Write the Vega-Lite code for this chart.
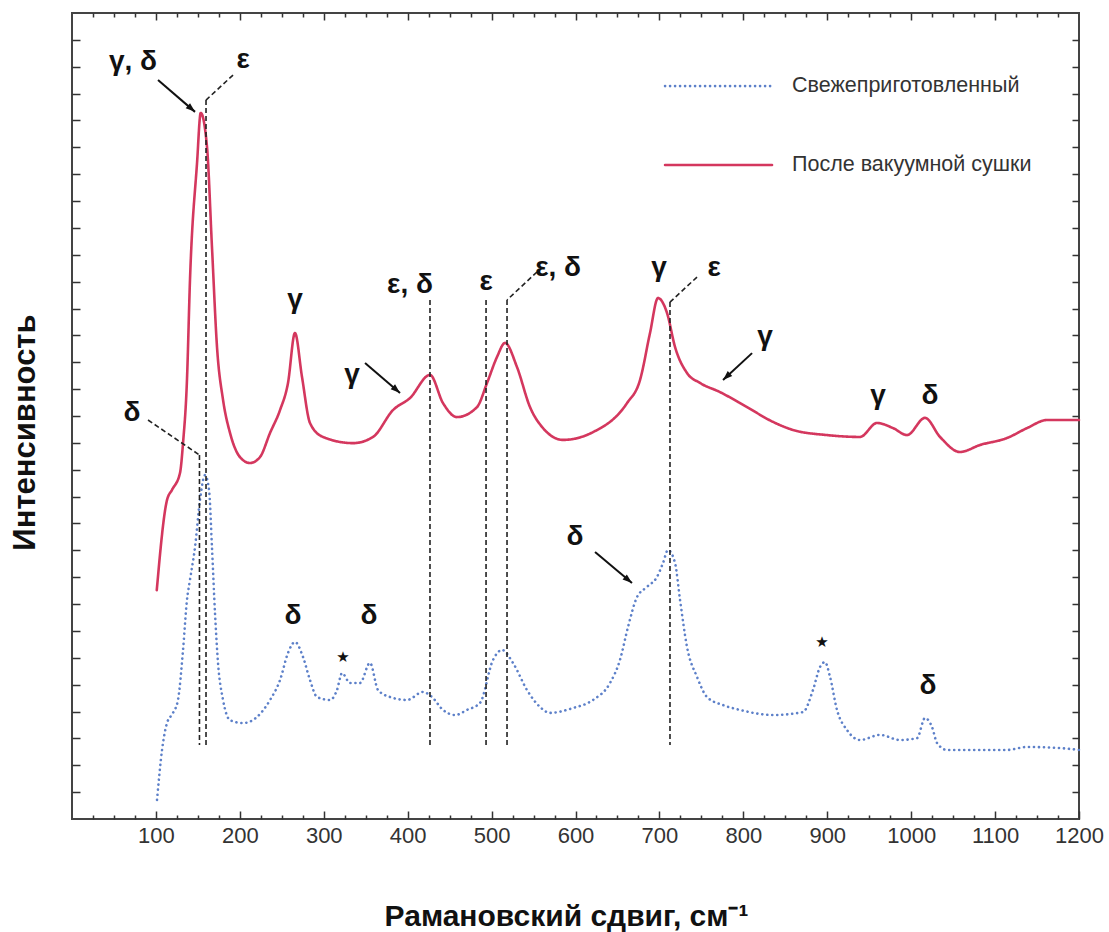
{
  "$schema": "https://vega.github.io/schema/vega-lite/v6.json",
  "width": 1007,
  "height": 806,
  "autosize": {"type": "none"},
  "padding": {"left": 72, "top": 13, "right": 30, "bottom": 113},
  "background": "white",
  "config": {
    "view": {"stroke": "#444", "strokeWidth": 2},
    "font": "Liberation Sans"
  },
  "datasets": {
    "spectra": [
      {"series": "После вакуумной сушки", "x": 101, "y": 8.52},
      {"series": "После вакуумной сушки", "x": 113.2, "y": 11.87},
      {"series": "После вакуумной сушки", "x": 119.2, "y": 12.25},
      {"series": "После вакуумной сушки", "x": 128.7, "y": 12.88},
      {"series": "После вакуумной сушки", "x": 132.3, "y": 13.99},
      {"series": "После вакуумной сушки", "x": 137.0, "y": 16.34},
      {"series": "После вакуумной сушки", "x": 140.6, "y": 20.06},
      {"series": "После вакуумной сушки", "x": 149.0, "y": 24.42},
      {"series": "После вакуумной сушки", "x": 153.4, "y": 26.28},
      {"series": "После вакуумной сушки", "x": 160.9, "y": 25.01},
      {"series": "После вакуумной сушки", "x": 166.8, "y": 21.29},
      {"series": "После вакуумной сушки", "x": 172.8, "y": 17.57},
      {"series": "После вакуумной сушки", "x": 180.0, "y": 15.6},
      {"series": "После вакуумной сушки", "x": 188.3, "y": 14.37},
      {"series": "После вакуумной сушки", "x": 200.2, "y": 13.47},
      {"series": "После вакуумной сушки", "x": 212.1, "y": 13.25},
      {"series": "После вакуумной сушки", "x": 224.0, "y": 13.47},
      {"series": "После вакуумной сушки", "x": 236.0, "y": 14.37},
      {"series": "После вакуумной сушки", "x": 247.9, "y": 15.22},
      {"series": "После вакуумной сушки", "x": 257.4, "y": 16.23},
      {"series": "После вакуумной сушки", "x": 265.7, "y": 18.09},
      {"series": "После вакуумной сушки", "x": 274.1, "y": 16.45},
      {"series": "После вакуумной сушки", "x": 283.6, "y": 14.74},
      {"series": "После вакуумной сушки", "x": 299.1, "y": 14.22},
      {"series": "После вакуумной сушки", "x": 334.9, "y": 13.99},
      {"series": "После вакуумной сушки", "x": 358.7, "y": 14.22},
      {"series": "После вакуумной сушки", "x": 382.5, "y": 15.22},
      {"series": "После вакуумной сушки", "x": 402.8, "y": 15.67},
      {"series": "После вакуумной сушки", "x": 426.6, "y": 16.53},
      {"series": "После вакуумной сушки", "x": 442.1, "y": 15.48},
      {"series": "После вакуумной сушки", "x": 458.8, "y": 14.96},
      {"series": "После вакуумной сушки", "x": 482.6, "y": 15.33},
      {"series": "После вакуумной сушки", "x": 494.6, "y": 16.23},
      {"series": "После вакуумной сушки", "x": 506.5, "y": 17.2},
      {"series": "После вакуумной сушки", "x": 516.0, "y": 17.72},
      {"series": "После вакуумной сушки", "x": 530.3, "y": 16.82},
      {"series": "После вакуумной сушки", "x": 545.8, "y": 15.33},
      {"series": "После вакуумной сушки", "x": 561.3, "y": 14.55},
      {"series": "После вакуумной сушки", "x": 585.1, "y": 14.11},
      {"series": "После вакуумной сушки", "x": 620.9, "y": 14.4},
      {"series": "После вакуумной сушки", "x": 661.4, "y": 15.48},
      {"series": "После вакуумной сушки", "x": 676.9, "y": 16.34},
      {"series": "После вакуумной сушки", "x": 688.8, "y": 18.09},
      {"series": "После вакуумной сушки", "x": 698.3, "y": 19.39},
      {"series": "После вакуумной сушки", "x": 709.1, "y": 18.83},
      {"series": "После вакуумной сушки", "x": 718.6, "y": 17.57},
      {"series": "После вакуумной сушки", "x": 732.9, "y": 16.6},
      {"series": "После вакуумной сушки", "x": 748.4, "y": 16.23},
      {"series": "После вакуумной сушки", "x": 772.2, "y": 15.89},
      {"series": "После вакуумной сушки", "x": 804.4, "y": 15.33},
      {"series": "После вакуумной сушки", "x": 835.4, "y": 14.78},
      {"series": "После вакуумной сушки", "x": 859.2, "y": 14.48},
      {"series": "После вакуумной сушки", "x": 899.7, "y": 14.29},
      {"series": "После вакуумной сушки", "x": 939.0, "y": 14.22},
      {"series": "После вакуумной сушки", "x": 959.3, "y": 14.74},
      {"series": "После вакуумной сушки", "x": 978.4, "y": 14.55},
      {"series": "После вакуумной сушки", "x": 995.1, "y": 14.29},
      {"series": "После вакуумной сушки", "x": 1016.5, "y": 14.93},
      {"series": "После вакуумной сушки", "x": 1034.4, "y": 14.22},
      {"series": "После вакуумной сушки", "x": 1058.2, "y": 13.66},
      {"series": "После вакуумной сушки", "x": 1082.0, "y": 13.92},
      {"series": "После вакуумной сушки", "x": 1114.2, "y": 14.18},
      {"series": "После вакуумной сушки", "x": 1138.1, "y": 14.55},
      {"series": "После вакуумной сушки", "x": 1161.9, "y": 14.85},
      {"series": "После вакуумной сушки", "x": 1200, "y": 14.85},
      {"series": "Свежеприготовленный", "x": 101.3, "y": 0.71},
      {"series": "Свежеприготовленный", "x": 107.3, "y": 2.57},
      {"series": "Свежеприготовленный", "x": 113.2, "y": 3.57},
      {"series": "Свежеприготовленный", "x": 120.4, "y": 3.95},
      {"series": "Свежеприготовленный", "x": 126.3, "y": 4.43},
      {"series": "Свежеприготовленный", "x": 132.3, "y": 6.29},
      {"series": "Свежеприготовленный", "x": 137.0, "y": 8.15},
      {"series": "Свежеприготовленный", "x": 140.6, "y": 8.9},
      {"series": "Свежеприготовленный", "x": 146.6, "y": 10.12},
      {"series": "Свежеприготовленный", "x": 152.5, "y": 11.87},
      {"series": "Свежеприготовленный", "x": 158.5, "y": 12.8},
      {"series": "Свежеприготовленный", "x": 163.3, "y": 12.25},
      {"series": "Свежеприготовленный", "x": 166.8, "y": 10.12},
      {"series": "Свежеприготовленный", "x": 170.4, "y": 7.67},
      {"series": "Свежеприготовленный", "x": 174.0, "y": 5.81},
      {"series": "Свежеприготовленный", "x": 180.0, "y": 4.43},
      {"series": "Свежеприготовленный", "x": 188.3, "y": 3.68},
      {"series": "Свежеприготовленный", "x": 203.8, "y": 3.57},
      {"series": "Свежеприготовленный", "x": 220.5, "y": 3.8},
      {"series": "Свежеприготовленный", "x": 236.0, "y": 4.43},
      {"series": "Свежеприготовленный", "x": 247.9, "y": 5.17},
      {"series": "Свежеприготовленный", "x": 257.4, "y": 6.18},
      {"series": "Свежеприготовленный", "x": 265.7, "y": 6.59},
      {"series": "Свежеприготовленный", "x": 275.3, "y": 6.03},
      {"series": "Свежеприготовленный", "x": 283.6, "y": 5.17},
      {"series": "Свежеприготовленный", "x": 292.0, "y": 4.54},
      {"series": "Свежеприготовленный", "x": 307.5, "y": 4.43},
      {"series": "Свежеприготовленный", "x": 315.8, "y": 4.8},
      {"series": "Свежеприготовленный", "x": 321.8, "y": 5.43},
      {"series": "Свежеприготовленный", "x": 331.3, "y": 5.06},
      {"series": "Свежеприготовленный", "x": 343.2, "y": 5.06},
      {"series": "Свежеприготовленный", "x": 355.1, "y": 5.81},
      {"series": "Свежеприготовленный", "x": 364.7, "y": 4.8},
      {"series": "Свежеприготовленный", "x": 379.0, "y": 4.54},
      {"series": "Свежеприготовленный", "x": 399.2, "y": 4.43},
      {"series": "Свежеприготовленный", "x": 418.3, "y": 4.73},
      {"series": "Свежеприготовленный", "x": 429.0, "y": 4.54},
      {"series": "Свежеприготовленный", "x": 442.1, "y": 4.06},
      {"series": "Свежеприготовленный", "x": 456.4, "y": 3.87},
      {"series": "Свежеприготовленный", "x": 470.7, "y": 4.06},
      {"series": "Свежеприготовленный", "x": 486.2, "y": 4.32},
      {"series": "Свежеприготовленный", "x": 501.7, "y": 5.92},
      {"series": "Свежеприготовленный", "x": 512.4, "y": 6.29},
      {"series": "Свежеприготовленный", "x": 525.5, "y": 5.81},
      {"series": "Свежеприготовленный", "x": 542.2, "y": 4.8},
      {"series": "Свежеприготовленный", "x": 557.7, "y": 4.17},
      {"series": "Свежеприготовленный", "x": 569.6, "y": 3.95},
      {"series": "Свежеприготовленный", "x": 597.0, "y": 4.13},
      {"series": "Свежеприготовленный", "x": 620.9, "y": 4.43},
      {"series": "Свежеприготовленный", "x": 641.1, "y": 5.06},
      {"series": "Свежеприготовленный", "x": 653.0, "y": 5.92},
      {"series": "Свежеприготовленный", "x": 662.6, "y": 7.15},
      {"series": "Свежеприготовленный", "x": 673.3, "y": 8.26},
      {"series": "Свежеприготовленный", "x": 685.2, "y": 8.64},
      {"series": "Свежеприготовленный", "x": 697.1, "y": 9.01},
      {"series": "Свежеприготовленный", "x": 704.3, "y": 9.53},
      {"series": "Свежеприготовленный", "x": 710.2, "y": 10.01},
      {"series": "Свежеприготовленный", "x": 718.6, "y": 9.53},
      {"series": "Свежеприготовленный", "x": 724.6, "y": 8.15},
      {"series": "Свежеприготовленный", "x": 732.9, "y": 6.4},
      {"series": "Свежеприготовленный", "x": 744.8, "y": 5.29},
      {"series": "Свежеприготовленный", "x": 756.7, "y": 4.54},
      {"series": "Свежеприготовленный", "x": 775.8, "y": 4.24},
      {"series": "Свежеприготовленный", "x": 796.0, "y": 4.06},
      {"series": "Свежеприготовленный", "x": 835.4, "y": 3.87},
      {"series": "Свежеприготовленный", "x": 871.1, "y": 3.98},
      {"series": "Свежеприготовленный", "x": 883.0, "y": 4.8},
      {"series": "Свежеприготовленный", "x": 891.4, "y": 5.66},
      {"series": "Свежеприготовленный", "x": 897.3, "y": 5.84},
      {"series": "Свежеприготовленный", "x": 903.3, "y": 5.29},
      {"series": "Свежеприготовленный", "x": 911.6, "y": 4.06},
      {"series": "Свежеприготовленный", "x": 923.6, "y": 3.31},
      {"series": "Свежеприготовленный", "x": 939.0, "y": 2.94},
      {"series": "Свежеприготовленный", "x": 962.9, "y": 3.13},
      {"series": "Свежеприготовленный", "x": 986.7, "y": 2.94},
      {"series": "Свежеприготовленный", "x": 1007.0, "y": 3.01},
      {"series": "Свежеприготовленный", "x": 1016.5, "y": 3.76},
      {"series": "Свежеприготовленный", "x": 1024.9, "y": 3.42},
      {"series": "Свежеприготовленный", "x": 1030.8, "y": 2.83},
      {"series": "Свежеприготовленный", "x": 1042.7, "y": 2.57},
      {"series": "Свежеприготовленный", "x": 1073.7, "y": 2.57},
      {"series": "Свежеприготовленный", "x": 1114.2, "y": 2.57},
      {"series": "Свежеприготовленный", "x": 1138.1, "y": 2.68},
      {"series": "Свежеприготовленный", "x": 1177.4, "y": 2.64},
      {"series": "Свежеприготовленный", "x": 1200, "y": 2.57}
    ],
    "guides": [
      {"x": 191.9, "y": 27.69, "x2": 159.7, "y2": 26.76},
      {"x": 159.7, "y": 26.76, "x2": 159.7, "y2": 2.75},
      {"x": 90.6, "y": 14.85, "x2": 151.9, "y2": 13.55},
      {"x": 151.9, "y": 13.55, "x2": 151.9, "y2": 2.75},
      {"x": 426.6, "y": 19.32, "x2": 426.6, "y2": 2.75},
      {"x": 493.4, "y": 19.32, "x2": 493.4, "y2": 2.75},
      {"x": 554.1, "y": 20.36, "x2": 518.4, "y2": 19.32},
      {"x": 518.4, "y": 19.32, "x2": 518.4, "y2": 2.75},
      {"x": 744.8, "y": 20.17, "x2": 712.6, "y2": 19.24},
      {"x": 712.6, "y": 19.24, "x2": 712.6, "y2": 2.75}
    ],
    "arrows": [
      {"x": 102.5, "y": 27.51, "x2": 146.6, "y2": 26.32, "angle": 131},
      {"x": 349.2, "y": 16.97, "x2": 390.9, "y2": 15.86, "angle": 131},
      {"x": 810.4, "y": 17.34, "x2": 775.8, "y2": 16.34, "angle": 227},
      {"x": 623.3, "y": 9.94, "x2": 667.3, "y2": 8.78, "angle": 130}
    ],
    "labels": [
      {"x": 72.7, "y": 28.18, "text": "γ, δ"},
      {"x": 203.8, "y": 28.25, "text": "ε"},
      {"x": 265.7, "y": 19.32, "text": "γ"},
      {"x": 333.7, "y": 16.53, "text": "γ"},
      {"x": 402.8, "y": 19.88, "text": "ε, δ"},
      {"x": 493.4, "y": 19.99, "text": "ε"},
      {"x": 579.2, "y": 20.51, "text": "ε, δ"},
      {"x": 699.5, "y": 20.51, "text": "γ"},
      {"x": 765.1, "y": 20.51, "text": "ε"},
      {"x": 825.8, "y": 17.94, "text": "γ"},
      {"x": 960.5, "y": 15.74, "text": "γ"},
      {"x": 1022.5, "y": 15.74, "text": "δ"},
      {"x": 71.5, "y": 15.11, "text": "δ"},
      {"x": 263.4, "y": 7.56, "text": "δ"},
      {"x": 354.0, "y": 7.56, "text": "δ"},
      {"x": 599.4, "y": 10.5, "text": "δ"},
      {"x": 1020.1, "y": 4.95, "text": "δ"}
    ],
    "stars": [
      {"x": 323.0, "y": 6.03, "text": "★"},
      {"x": 893.8, "y": 6.59, "text": "★"}
    ],
    "legend": [
      {"series": "Свежеприготовленный", "x": 706.7, "x2": 834.2, "y": 27.28, "tx": 858.0},
      {"series": "После вакуумной сушки", "x": 706.7, "x2": 834.2, "y": 24.34, "tx": 858.0}
    ]
  },
  "layer": [
    {
      "data": {"name": "spectra"},
      "mark": {"type": "line", "strokeWidth": 2.6, "strokeCap": "round", "interpolate": "monotone"},
      "encoding": {
        "x": {
          "field": "x", "type": "quantitative",
          "scale": {"domain": [0, 1200], "nice": false, "zero": false},
          "axis": {
            "orient": "bottom",
            "values": [100, 200, 300, 400, 500, 600, 700, 800, 900, 1000, 1100, 1200],
            "format": "d",
            "tickSize": -8, "tickWidth": 1.5, "tickColor": "#333",
            "domain": false, "grid": false,
            "labelFontSize": 22, "labelColor": "#333", "labelFont": "Liberation Sans",
            "labelBaseline": "alphabetic", "labelPadding": 31, "labelFlush": false, "labelOverlap": false,
            "title": "Рамановский сдвиг, см⁻¹",
            "titleFont": "Liberation Sans", "titleFontSize": 30, "titleFontWeight": "bold", "titleColor": "#111",
            "titleX": 494, "titleY": 106, "titleBaseline": "alphabetic", "titleAlign": "center"
          }
        },
        "y": {
          "field": "y", "type": "quantitative",
          "scale": {"domain": [0, 30], "nice": false, "zero": false},
          "axis": {
            "orient": "left",
            "values": [1, 2, 3, 4, 5, 6, 7, 8, 9, 10, 11, 12, 13, 14, 15, 16, 17, 18, 19, 20, 21, 22, 23, 24, 25, 26, 27, 28, 29],
            "tickSize": -8, "tickWidth": 1.5, "tickColor": "#333",
            "domain": false, "grid": false, "labels": false,
            "title": "Интенсивность",
            "titleFont": "Liberation Sans", "titleFontSize": 31, "titleFontWeight": "bold", "titleColor": "#111",
            "titleAngle": -90, "titleX": -47, "titleY": 419, "titleBaseline": "middle", "titleAlign": "center"
          }
        },
        "color": {
          "field": "series", "type": "nominal",
          "scale": {"domain": ["Свежеприготовленный", "После вакуумной сушки"], "range": ["#5d80c9", "#d4375e"]},
          "legend": null
        },
        "strokeDash": {
          "field": "series", "type": "nominal",
          "scale": {"domain": ["Свежеприготовленный", "После вакуумной сушки"], "range": [[0.1, 4.9], [1, 0]]},
          "legend": null
        }
      }
    },
    {
      "data": {"name": "guides"},
      "mark": {"type": "rule", "color": "#222", "strokeWidth": 1.6, "strokeDash": [5, 3]},
      "encoding": {
        "x": {
          "field": "x", "type": "quantitative",
          "scale": {"domain": [0, 1200], "nice": false, "zero": false},
          "axis": {
            "orient": "bottom",
            "values": [25, 50, 75, 125, 150, 175, 225, 250, 275, 325, 350, 375, 425, 450, 475, 525, 550, 575, 625, 650, 675, 725, 750, 775, 825, 850, 875, 925, 950, 975, 1025, 1050, 1075, 1125, 1150, 1175],
            "tickSize": -4, "tickWidth": 1.5, "tickColor": "#333",
            "domain": false, "grid": false, "labels": false, "title": null
          }
        },
        "y": {
          "field": "y", "type": "quantitative",
          "scale": {"domain": [0, 30], "nice": false, "zero": false},
          "axis": {
            "orient": "right",
            "values": [1, 2, 3, 4, 5, 6, 7, 8, 9, 10, 11, 12, 13, 14, 15, 16, 17, 18, 19, 20, 21, 22, 23, 24, 25, 26, 27, 28, 29],
            "tickSize": -7, "tickWidth": 1.5, "tickColor": "#333",
            "domain": false, "grid": false, "labels": false, "title": null
          }
        },
        "x2": {"field": "x2"},
        "y2": {"field": "y2"}
      }
    },
    {
      "data": {"name": "arrows"},
      "mark": {"type": "rule", "color": "#111", "strokeWidth": 2},
      "encoding": {
        "x": {
          "field": "x", "type": "quantitative",
          "scale": {"domain": [0, 1200], "nice": false, "zero": false},
          "axis": {
            "orient": "top",
            "values": [25, 50, 75, 125, 150, 175, 225, 250, 275, 325, 350, 375, 425, 450, 475, 525, 550, 575, 625, 650, 675, 725, 750, 775, 825, 850, 875, 925, 950, 975, 1025, 1050, 1075, 1125, 1150, 1175],
            "tickSize": -4, "tickWidth": 1.5, "tickColor": "#333",
            "domain": false, "grid": false, "labels": false, "title": null
          }
        },
        "y": {
          "field": "y", "type": "quantitative",
          "scale": {"domain": [0, 30], "nice": false, "zero": false},
          "axis": null
        },
        "x2": {"field": "x2"},
        "y2": {"field": "y2"}
      }
    },
    {
      "data": {"name": "arrows"},
      "mark": {"type": "point", "filled": true, "color": "#111", "opacity": 1, "shape": "M0,0L-0.7,2L0.7,2Z", "size": 90},
      "encoding": {
        "x": {
          "field": "x2", "type": "quantitative",
          "scale": {"domain": [0, 1200], "nice": false, "zero": false},
          "axis": {
            "orient": "top",
            "values": [100, 200, 300, 400, 500, 600, 700, 800, 900, 1000, 1100],
            "tickSize": -7, "tickWidth": 1.5, "tickColor": "#333",
            "domain": false, "grid": false, "labels": false, "title": null
          }
        },
        "y": {
          "field": "y2", "type": "quantitative",
          "scale": {"domain": [0, 30], "nice": false, "zero": false},
          "axis": null
        },
        "angle": {"field": "angle", "type": "quantitative", "scale": null}
      }
    },
    {
      "data": {"name": "labels"},
      "mark": {"type": "text", "font": "Liberation Sans", "fontSize": 28, "fontWeight": "bold", "color": "#111", "align": "center", "baseline": "middle"},
      "encoding": {
        "x": {"field": "x", "type": "quantitative", "scale": {"domain": [0, 1200], "nice": false, "zero": false}, "axis": null},
        "y": {"field": "y", "type": "quantitative", "scale": {"domain": [0, 30], "nice": false, "zero": false}, "axis": null},
        "text": {"field": "text"}
      }
    },
    {
      "data": {"name": "stars"},
      "mark": {"type": "text", "font": "DejaVu Sans", "fontSize": 15, "color": "#111", "align": "center", "baseline": "middle"},
      "encoding": {
        "x": {"field": "x", "type": "quantitative", "scale": {"domain": [0, 1200], "nice": false, "zero": false}, "axis": null},
        "y": {"field": "y", "type": "quantitative", "scale": {"domain": [0, 30], "nice": false, "zero": false}, "axis": null},
        "text": {"field": "text"}
      }
    },
    {
      "data": {"name": "legend"},
      "mark": {"type": "rule", "strokeWidth": 2.6, "strokeCap": "round"},
      "encoding": {
        "x": {"field": "x", "type": "quantitative", "scale": {"domain": [0, 1200], "nice": false, "zero": false}, "axis": null},
        "x2": {"field": "x2"},
        "y": {"field": "y", "type": "quantitative", "scale": {"domain": [0, 30], "nice": false, "zero": false}, "axis": null},
        "color": {"field": "series", "type": "nominal", "legend": null},
        "strokeDash": {"field": "series", "type": "nominal", "legend": null}
      }
    },
    {
      "data": {"name": "legend"},
      "mark": {"type": "text", "font": "Liberation Sans", "fontSize": 21.5, "color": "#333", "align": "left", "baseline": "middle"},
      "encoding": {
        "x": {"field": "tx", "type": "quantitative", "scale": {"domain": [0, 1200], "nice": false, "zero": false}, "axis": null},
        "y": {"field": "y", "type": "quantitative", "scale": {"domain": [0, 30], "nice": false, "zero": false}, "axis": null},
        "text": {"field": "series"}
      }
    }
  ],
  "resolve": {"axis": {"x": "independent", "y": "independent"}}
}
